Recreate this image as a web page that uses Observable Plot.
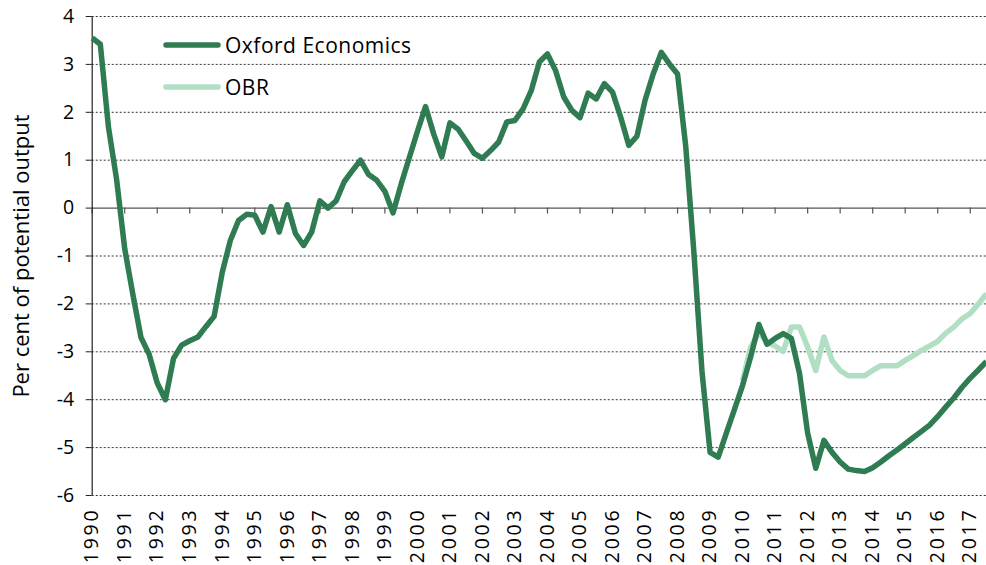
<!DOCTYPE html>
<html>
<head>
<meta charset="utf-8">
<script src="https://cdn.jsdelivr.net/npm/d3@7"></script>
<script src="https://cdn.jsdelivr.net/npm/@observablehq/plot@0.6"></script>
<style>
  html, body { margin: 0; padding: 0; background: #fff; }
  #wrap { position: relative; width: 986px; height: 565px; overflow: hidden; }
  #legend { position: absolute; left: 0; top: 0; pointer-events: none; }
  #legend text { font-family: "Open Sans", sans-serif; font-size: 21px; letter-spacing: 0.5px; fill: #000; }
</style>
</head>
<body>
<div id="wrap"></div>
<script>
// Quarterly output gap estimates, 1990 Q1 – 2017 Q3
const startYear = 1990;
const oxfordValues = [
  3.55, 3.42, 1.69, 0.6,
  -0.85, -1.8, -2.7, -3.05,
  -3.65, -4.0, -3.14, -2.86,
  -2.77, -2.69, -2.47, -2.26,
  -1.34, -0.67, -0.26, -0.13,
  -0.15, -0.5, 0.03, -0.5,
  0.07, -0.53, -0.78, -0.5,
  0.15, 0.0, 0.15, 0.55,
  0.78, 1.0, 0.7, 0.58,
  0.35, -0.1, 0.5, 1.05,
  1.6, 2.12, 1.55, 1.07,
  1.78, 1.65, 1.4, 1.14,
  1.04, 1.2, 1.38, 1.8,
  1.83, 2.07, 2.45, 3.05,
  3.22, 2.87, 2.32, 2.04,
  1.89, 2.4, 2.28, 2.6,
  2.42, 1.9, 1.31, 1.5,
  2.25, 2.8, 3.25, 3.01,
  2.8, 1.3, -0.9, -3.4,
  -5.1, -5.2, -4.7, -4.2,
  -3.7, -3.1, -2.43, -2.84,
  -2.72, -2.62, -2.72, -3.45,
  -4.7, -5.43, -4.85, -5.1,
  -5.3, -5.45, -5.48, -5.5,
  -5.42, -5.3, -5.17, -5.05,
  -4.92, -4.79, -4.66, -4.53,
  -4.35, -4.15, -3.96, -3.74,
  -3.55, -3.38, -3.2
];
// OBR series, 2010 Q1 – 2017 Q3
const obrStartYear = 2010;
const obrValues = [
  -3.6, -2.9, -2.59, -2.8,
  -2.88, -2.99, -2.48, -2.48,
  -2.9, -3.39, -2.69, -3.18,
  -3.39, -3.5, -3.5, -3.5,
  -3.39, -3.29, -3.29, -3.29,
  -3.18, -3.08, -2.97, -2.88,
  -2.78, -2.61, -2.48, -2.31,
  -2.2, -2.0, -1.79
];
const yearLabels = [1990,1991,1992,1993,1994,1995,1996,1997,1998,1999,2000,2001,2002,2003,
  2004,2005,2006,2007,2008,2009,2010,2011,2012,2013,2014,2015,2016,2017];
const yTicks = [-6,-5,-4,-3,-2,-1,0,1,2,3,4];
const seriesNames = ["Oxford Economics", "OBR"];
const colors = ["#2f7b52", "#b1dfc4"];
const yTitle = "Per cent of potential output";

const oxford = oxfordValues.map((v, i) => ({t: startYear + i / 4, v}));
const obr = obrValues.map((v, i) => ({t: obrStartYear + i / 4, v}));

const chart = Plot.plot({
  width: 986,
  height: 565,
  marginLeft: 91.7,
  marginRight: 0,
  marginTop: 16,
  marginBottom: 70,
  style: {fontFamily: "'Open Sans', sans-serif", fontSize: "19.5px", color: "#000", background: "#fff", overflow: "visible"},
  x: {domain: [1990, 2017.5]},
  y: {domain: [-6, 4]},
  marks: [
    Plot.ruleY(yTicks.filter(d => d !== 0), {stroke: "#333", strokeDasharray: "2,2", strokeWidth: 1, strokeOpacity: 1}),
    Plot.ruleY([0], {stroke: "#555", strokeWidth: 1.2}),
    Plot.ruleX(yearLabels, {y1: 0, y2: -0.125, stroke: "#555", strokeWidth: 1.2}),
    Plot.ruleX([1990], {stroke: "#222", strokeWidth: 1.2}),
    Plot.axisY({ticks: yTicks, tickSize: 6, tickPadding: 12, label: null, tickFormat: d => String(d), stroke: "#222", fontSize: 19.5}),
    Plot.axisX({ticks: yearLabels, tickSize: 0, tickPadding: 12, tickRotate: -90, label: null, tickFormat: d => String(d), fontSize: 19.5}),
    Plot.text([yTitle], {frameAnchor: "left", dx: -70.7, rotate: -90, text: d => d, fontSize: 22, textAnchor: "middle", lineAnchor: "middle"}),
    Plot.line(obr, {x: "t", y: "v", stroke: colors[1], strokeWidth: 5.5, strokeLinejoin: "round", strokeLinecap: "butt"}),
    Plot.line(oxford, {x: "t", y: "v", stroke: colors[0], strokeWidth: 5.5, strokeLinejoin: "round", strokeLinecap: "butt"})
  ]
});

d3.select(chart).selectAll('g[aria-label="x-axis tick label"] text').style("letter-spacing", "2.8px");

const wrap = document.getElementById("wrap");
wrap.appendChild(chart);

// Legend overlay
const ns = "http://www.w3.org/2000/svg";
const leg = document.createElementNS(ns, "svg");
leg.setAttribute("id", "legend");
leg.setAttribute("width", 986);
leg.setAttribute("height", 565);
const legendRows = [45, 87];
seriesNames.forEach((name, k) => {
  const y = legendRows[k];
  const ln = document.createElementNS(ns, "line");
  ln.setAttribute("x1", 166); ln.setAttribute("x2", 218);
  ln.setAttribute("y1", y); ln.setAttribute("y2", y);
  ln.setAttribute("stroke", colors[k]);
  ln.setAttribute("stroke-width", 5.5);
  ln.setAttribute("stroke-linecap", "round");
  leg.appendChild(ln);
  const tx = document.createElementNS(ns, "text");
  tx.setAttribute("x", 225);
  tx.setAttribute("y", y);
  tx.setAttribute("dy", "0.36em");
  tx.textContent = name;
  leg.appendChild(tx);
});
wrap.appendChild(leg);
</script>
</body>
</html>
